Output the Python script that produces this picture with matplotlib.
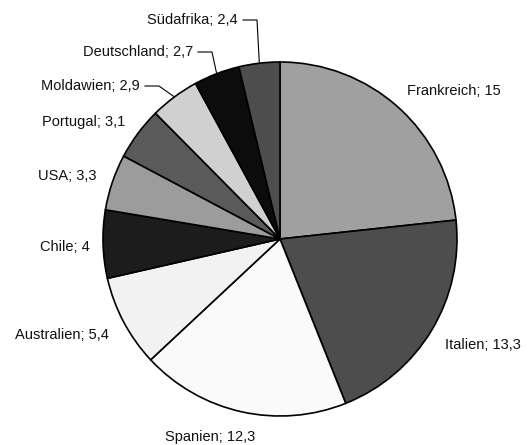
import numpy as np
import matplotlib
matplotlib.use("Agg")
import matplotlib.pyplot as plt

plt.rcParams['font.family'] = ['Liberation Sans', 'DejaVu Sans']

# Weinproduktion nach Ländern
laender = ["Frankreich", "Italien", "Spanien", "Australien", "Chile",
           "USA", "Portugal", "Moldawien", "Deutschland", "Südafrika"]
werte = [15, 13.3, 12.3, 5.4, 4, 3.3, 3.1, 2.9, 2.7, 2.4]
farben = ["#a0a0a0", "#4d4d4d", "#fafafa", "#f2f2f2", "#1c1c1c",
          "#9c9c9c", "#5a5a5a", "#d0d0d0", "#0c0c0c", "#4d4d4d"]

W, H = 530, 445
fig = plt.figure(figsize=(W / 100, H / 100), dpi=100)
ax = fig.add_axes([0, 0, 1, 1])

cx, cy, r = 280, H - 239, 177
wedges, _ = ax.pie(werte, colors=farben, startangle=90, counterclock=False,
                   center=(cx, cy), radius=r, frame=True,
                   wedgeprops=dict(edgecolor="black", linewidth=1.2))
ax.set_xlim(0, W)
ax.set_ylim(0, H)
ax.set_aspect("equal")
ax.axis("off")

def fmt(v):
    return f"{v:g}".replace(".", ",")

# label anchor (pixel coords from top-left), alignment; right-aligned ones get a leader line
label_pos = {
    "Frankreich": (407, 91, "left"),
    "Italien": (445, 345, "left"),
    "Spanien": (165, 437, "left"),
    "Australien": (15, 335, "left"),
    "Chile": (40, 247, "left"),
    "USA": (38, 176, "left"),
    "Portugal": (42, 122, "left"),
    "Moldawien": (140, 86, "right"),
    "Deutschland": (193, 52, "right"),
    "Südafrika": (238, 20, "right"),
}

for w, name, v in zip(wedges, laender, werte):
    x, y, ha = label_pos[name]
    ax.text(x, H - y, f"{name}; {fmt(v)}", ha=ha, va="center",
            fontsize=10.5, color="#111111")
    if ha == "right":
        mid = np.deg2rad((w.theta1 + w.theta2) / 2)
        ex, ey = cx + r * np.cos(mid), cy + r * np.sin(mid)
        x0 = x + 5
        x1 = x0 + 14
        ax.plot([x0, x1, ex], [H - y, H - y, ey], color="black", lw=0.8)

fig.savefig("out.png", dpi=100)
